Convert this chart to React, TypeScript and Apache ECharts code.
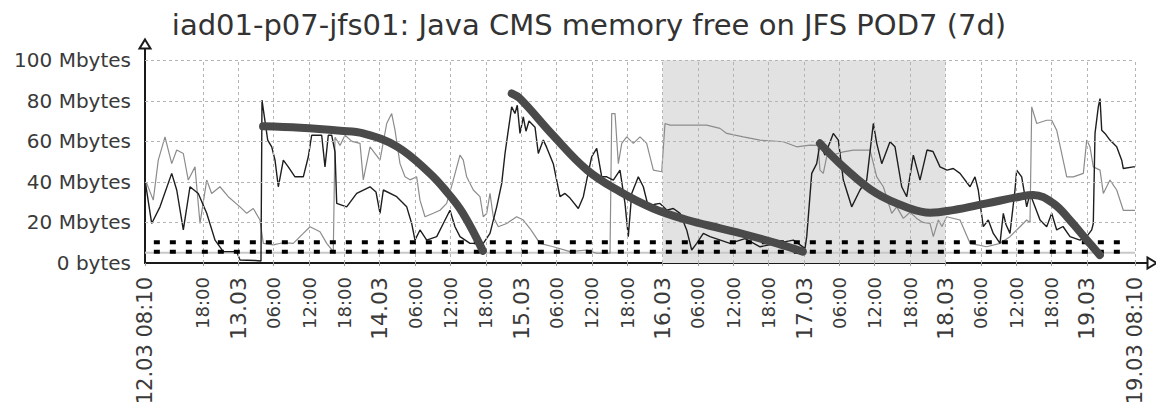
import React, { useEffect, useRef } from "react";
import * as echarts from "echarts";

// ---- time base: hours since 12.03 00:00 ----
const T0 = 8 + 10 / 60; // 12.03 08:10
const T_END = T0 + 168; // 19.03 08:10

const TITLE = "iad01-p07-jfs01: Java CMS memory free on JFS POD7 (7d)";

const xTickHours = [
  T0, 18, 24, 30, 36, 42, 48, 54, 60, 66, 72, 78, 84, 90, 96, 102, 108, 114,
  120, 126, 132, 138, 144, 150, 156, 162, 168, T_END,
];
const xTickLabels = [
  "12.03 08:10", "18:00", "13.03", "06:00", "12:00", "18:00", "14.03", "06:00",
  "12:00", "18:00", "15.03", "06:00", "12:00", "18:00", "16.03", "06:00",
  "12:00", "18:00", "17.03", "06:00", "12:00", "18:00", "18.03", "06:00",
  "12:00", "18:00", "19.03", "19.03 08:10",
];
const yGridValues = [20, 40, 60, 80, 100];
const shadedPeriod = [96, 144]; // 16.03 00:00 – 18.03 00:00
const thresholds = [10.2, 5.5];
const baselineValue = 5;

// dark thin series [hour, Mbytes]
const darkLine: [number, number][] = [
  [8.17, 40.9], [9.3, 19.5], [10.71, 27.7], [12.7, 44.2], [13.55, 36], [14.67, 16.3],
  [15.8, 37.6], [17.21, 34.3], [18.64, 24.5], [20.05, 11.3], [21.45, 5.6], [23.73, 5.6],
  [24.29, 1.5], [26.83, 1.2], [27.85, 1.0], [28.02, 80.3], [28.99, 60.6], [29.67, 57.3],
  [30.23, 50.7], [30.79, 37.6], [31.64, 50.7], [32.48, 47.4], [33.62, 42.5], [35.03, 42.5],
  [35.88, 52.4], [36.45, 63], [38.15, 63], [38.71, 47.4], [39.27, 63], [39.85, 63],
  [40.41, 54.8], [40.7, 29.4], [42.39, 27.7], [44.09, 34.3], [46.35, 37.6], [47.37, 35],
  [48.05, 24.5], [48.61, 36], [50.88, 32.7], [52.58, 27.7], [53.42, 19.5], [53.98, 11.3],
  [54.83, 16.3], [55.97, 11.3], [57.67, 13], [58.79, 19.5], [59.92, 26], [60.77, 17.9],
  [61.62, 13], [63.32, 9.7], [65.57, 9.7], [66.71, 14.6], [67.85, 27.7], [68.7, 39.3],
  [69.26, 54], [69.82, 65.5], [70.39, 77], [70.95, 73.7], [71.34, 77.8], [71.8, 63.9],
  [72.36, 72], [72.82, 65], [73.33, 70], [74.35, 67], [74.91, 54], [75.76, 60.6],
  [76.33, 57], [77.45, 49], [78.59, 32.7], [79.44, 34.3], [80.29, 32], [81.7, 26.9],
  [82.55, 32.7], [83.12, 40.9], [83.97, 52.4], [84.82, 56.5], [85.67, 42.5], [86.52, 42.5],
  [87.64, 40.9], [88.77, 45.8], [89.62, 29.4], [90.18, 13], [90.76, 34.3], [91.88, 42.5],
  [92.73, 37.6], [93.58, 27.7], [94.71, 29], [95.56, 29.4], [96.7, 26.1], [97.82, 26.9],
  [98.96, 24.5], [100.09, 16.3], [100.94, 6.4], [101.79, 9.7], [102.91, 14.6], [104.05, 13],
  [107.44, 9.7], [110.0, 12], [112.54, 8], [115.37, 9.7], [118.18, 11.3], [120.17, 7.2],
  [120.46, 13], [121.31, 44.2], [122.15, 49], [122.71, 59], [123.56, 53.2], [124.97, 63.9],
  [125.82, 60.6], [126.67, 40.9], [128.09, 27.7], [129.5, 36], [130.64, 40.9], [131.76, 68.8],
  [132.34, 59], [133.19, 49], [134.59, 59.8], [135.44, 57.3], [136.58, 37.6], [137.43, 32.7],
  [138.55, 53.2], [139.68, 40.9], [140.87, 55.7], [141.89, 55], [143.08, 47.4], [144.26, 45.8],
  [145.33, 46.6], [146.47, 44.2], [148.17, 37.6], [149.01, 42.5], [149.57, 36], [150.42, 17.9],
  [151.27, 21.2], [152.12, 14.6], [153.26, 9.7], [153.82, 24.5], [154.27, 19], [154.95, 14.6],
  [155.8, 36], [156.09, 45.8], [156.94, 42.5], [157.79, 27.7], [158.35, 34.3], [159.2, 27.7],
  [160.05, 21.2], [161.18, 17.9], [162.03, 24.5], [162.88, 16.3], [163.95, 18], [165.14, 13],
  [166.83, 11.3], [167.97, 13], [168.82, 16.3], [169.09, 19.5], [169.38, 63.9], [169.94, 77],
  [170.23, 81.1], [170.52, 65.5], [171.07, 63.9], [171.92, 60.6], [173.06, 57.3], [173.91, 50.7],
  [174.18, 46.6], [175.88, 47.4], [176.17, 47.4],
];

// grey thin series [hour, Mbytes]
const greyLine: [number, number][] = [
  [8.17, 40], [8.45, 39.3], [9.57, 31], [10.42, 50.7], [11.56, 62.2], [12.7, 49],
  [13.55, 55.7], [14.67, 54], [15.51, 40.9], [16.65, 47.4], [17.5, 19.5], [18.64, 40.9],
  [19.48, 34.3], [20.89, 37.6], [22.3, 32.7], [24.29, 27.7], [25.42, 24.5], [26.54, 26.9],
  [27.68, 21.2], [28.24, 9.7], [29.94, 8.9], [31.58, 10], [33.33, 9.7], [35.03, 14.6],
  [36.17, 17.9], [37.86, 15.4], [39.0, 9.7], [40.12, 5.6], [40.41, 62], [41.26, 58],
  [42.1, 63], [43.29, 60], [44.65, 59], [45.21, 41], [46.35, 57.3], [48.05, 50.7],
  [49.18, 68.8], [50.03, 73.7], [50.59, 65.5], [51.44, 49], [52.29, 42.5], [53.14, 41],
  [54.27, 42.5], [54.83, 31], [55.68, 22.8], [57.09, 24.5], [58.23, 26], [59.36, 29.4],
  [60.48, 40.9], [61.62, 53.2], [62.18, 50.7], [62.75, 42.5], [63.88, 36], [65.01, 32.7],
  [65.57, 22.8], [66.15, 24.5], [66.71, 34.3], [67.27, 22.8], [68.12, 17.9], [69.54, 19.5],
  [71.24, 22.8], [72.36, 21.2], [73.5, 17], [74.06, 14.6], [75.19, 9.7], [77.45, 8],
  [80.29, 5.6], [83.12, 6.4], [84.82, 4.8], [87.08, 4.8], [87.37, 73.7], [87.93, 73.7],
  [88.49, 49], [89.07, 59], [89.91, 62.2], [91.03, 59], [92.17, 62.2], [93.3, 59],
  [94.43, 45.8], [95.85, 45], [96.41, 68.8], [97.26, 68], [100.65, 68], [103.48, 68],
  [105.74, 66.4], [106.88, 63.9], [109.7, 62.2], [112.53, 60.6], [116.48, 59.8], [118.76, 57.3],
  [121.01, 58.1], [122.37, 58], [122.71, 45.8], [123.27, 44.2], [123.85, 52.4], [126.67, 54.8],
  [128.36, 55.7], [131.2, 55.7], [132.34, 42.5], [133.46, 37.6], [134.88, 24.5], [135.73, 27.7],
  [136.85, 22], [138.0, 25], [139.12, 22], [140.19, 20], [141.38, 19.5], [141.94, 13],
  [142.79, 21.2], [143.41, 18], [144.21, 22.8], [146.47, 21.2], [148.17, 9.7], [151.0, 8],
  [153.26, 9.7], [154.95, 13], [156.65, 17.9], [157.79, 21.2], [158.35, 20], [158.64, 77],
  [159.49, 68.8], [161.18, 70.4], [162.03, 70.4], [162.88, 65.5], [164.58, 42.5], [165.7, 42.5],
  [167.4, 44.2], [167.97, 60.6], [168.53, 57.3], [169.09, 47.4], [170.23, 45.8], [170.79, 34.3],
  [171.92, 40.9], [173.06, 36], [174.18, 26], [175.88, 26], [176.17, 26],
];

// thick trend segments [hour, Mbytes]
const trend1: [number, number][] = [
  [28.2, 67.4], [34.5, 66.7], [41.3, 65.2], [45.2, 63.9], [51.0, 57.3], [56.5, 44.2],
  [59.4, 35], [62.1, 24.6], [65.5, 6],
];
const trend2: [number, number][] = [
  [70.4, 83.6], [71.8, 81.1], [77.4, 63], [83.2, 45.8], [88.8, 35.1], [94.4, 26.9],
  [100.2, 21.2], [105.8, 17.1], [109.7, 14.3], [115.4, 9.7], [119.8, 5.6],
];
const trend3: [number, number][] = [
  [122.7, 59], [126.7, 47.4], [132.3, 34.3], [138.0, 26.9], [141.4, 24.8], [145.3, 26.1],
  [151.0, 29.4], [156.6, 32.7], [158.9, 33.5], [162.3, 29.4], [165.1, 21.2], [168.0, 11.3],
  [170.2, 3.9],
];

const FONT = "DejaVu Sans";
const X_MAX = T0 + 1007 / (990 / 168);

export default function App() {
  const ref = useRef<HTMLDivElement>(null);

  useEffect(() => {
    document.body.style.margin = "0";
    if (!ref.current) return;
    const chart = echarts.init(ref.current, undefined, { renderer: "svg" });

    const labelFor = (v: number) => {
      const i = xTickHours.findIndex((h) => Math.abs(h - v) < 1e-6);
      if (i < 0) return "";
      const s = xTickLabels[i];
      if (s.indexOf(" ") >= 0) return `{e|${s}}`;
      return s.indexOf(".") >= 0 ? `{d|${s}}` : `{t|${s}}`;
    };

    const gridLineStyle = { color: "#b4b4b4", width: 1, type: [3, 3] as any };

    const trendSeries = (name: string, data: [number, number][]) => ({
      name,
      type: "line",
      data,
      smooth: 0.4,
      showSymbol: false,
      z: 6,
      lineStyle: { color: "#4a4a4a", width: 8, cap: "round", join: "round" },
    });

    chart.setOption({
      animation: false,
      backgroundColor: "#ffffff",
      textStyle: { fontFamily: FONT },
      graphic: [
        {
          type: "text",
          x: 589,
          y: 25,
          style: {
            text: TITLE,
            fontFamily: FONT,
            fontSize: 29,
            fill: "#333333",
            textAlign: "center",
            textVerticalAlign: "middle",
          },
        },
      ],
      grid: {
        left: 145,
        right: 4,
        top: 44,
        bottom: 149,
        containLabel: false,
        outerBoundsMode: "none",
      },
      xAxis: {
        type: "value",
        min: T0,
        max: X_MAX,
        splitLine: { show: false },
        axisLine: {
          show: true,
          symbol: ["none", "emptyTriangle"],
          symbolSize: [11, 9],
          lineStyle: { color: "#1a1a1a", width: 2 },
        },
        axisTick: {
          show: true,
          customValues: xTickHours,
          length: 3,
          lineStyle: { color: "#9a9a9a" },
        },
        axisLabel: {
          customValues: xTickHours,
          rotate: 90,
          margin: 14,
          color: "#3a3a3a",
          formatter: labelFor,
          rich: {
            e: { fontSize: 21, fontFamily: FONT, color: "#3a3a3a" },
            d: { fontSize: 22, fontFamily: FONT, color: "#3a3a3a" },
            t: { fontSize: 18, fontFamily: FONT, color: "#3a3a3a" },
          },
        },
      },
      yAxis: {
        type: "value",
        min: 0,
        max: 108,
        interval: 20,
        splitLine: { show: false },
        axisLine: {
          show: true,
          symbol: ["none", "emptyTriangle"],
          symbolSize: [11, 9],
          lineStyle: { color: "#1a1a1a", width: 2 },
        },
        axisTick: { show: false },
        axisLabel: {
          margin: 14,
          fontSize: 20,
          fontFamily: FONT,
          color: "#3a3a3a",
          formatter: (v: number) =>
            v === 0 ? "0 bytes" : v % 20 === 0 && v <= 100 ? `${v} Mbytes` : "",
        },
      },
      series: [
        {
          name: "background",
          type: "line",
          data: [],
          z: 1,
          markArea: {
            silent: true,
            itemStyle: { color: "#e2e2e2" },
            data: [[{ xAxis: shadedPeriod[0], yAxis: 0 }, { xAxis: shadedPeriod[1], yAxis: 100 }]],
          },
          markLine: {
            silent: true,
            symbol: "none",
            label: { show: false },
            lineStyle: gridLineStyle,
            data: [
              ...yGridValues.map((v) => [
                { coord: [T0, v] },
                { coord: [T_END, v] },
              ]),
              ...xTickHours.slice(1).map((h) => [
                { coord: [h, 0] },
                { coord: [h, 100] },
              ]),
            ],
          },
        },
        {
          name: "baseline",
          type: "line",
          data: [[T0, baselineValue], [T_END, baselineValue]],
          showSymbol: false,
          z: 2,
          lineStyle: { color: "#c8c8c8", width: 2 },
        },
        {
          name: "grey",
          type: "line",
          data: greyLine,
          showSymbol: false,
          z: 3,
          lineStyle: { color: "#8c8c8c", width: 1.2 },
        },
        {
          name: "dark",
          type: "line",
          data: darkLine,
          showSymbol: false,
          z: 4,
          lineStyle: { color: "#1e1e1e", width: 1.4 },
        },
        ...thresholds.map((v, i) => ({
          name: `threshold${i}`,
          type: "line",
          data: [[T0 + 1.5, v], [T_END - 1, v]],
          showSymbol: false,
          z: 5,
          lineStyle: { color: "#000000", width: 4, type: [6, 10] },
        })),
        trendSeries("trend1", trend1),
        trendSeries("trend2", trend2),
        trendSeries("trend3", trend3),
      ],
    });

    return () => chart.dispose();
  }, []);

  return <div ref={ref} style={{ width: 1156, height: 412 }} />;
}
